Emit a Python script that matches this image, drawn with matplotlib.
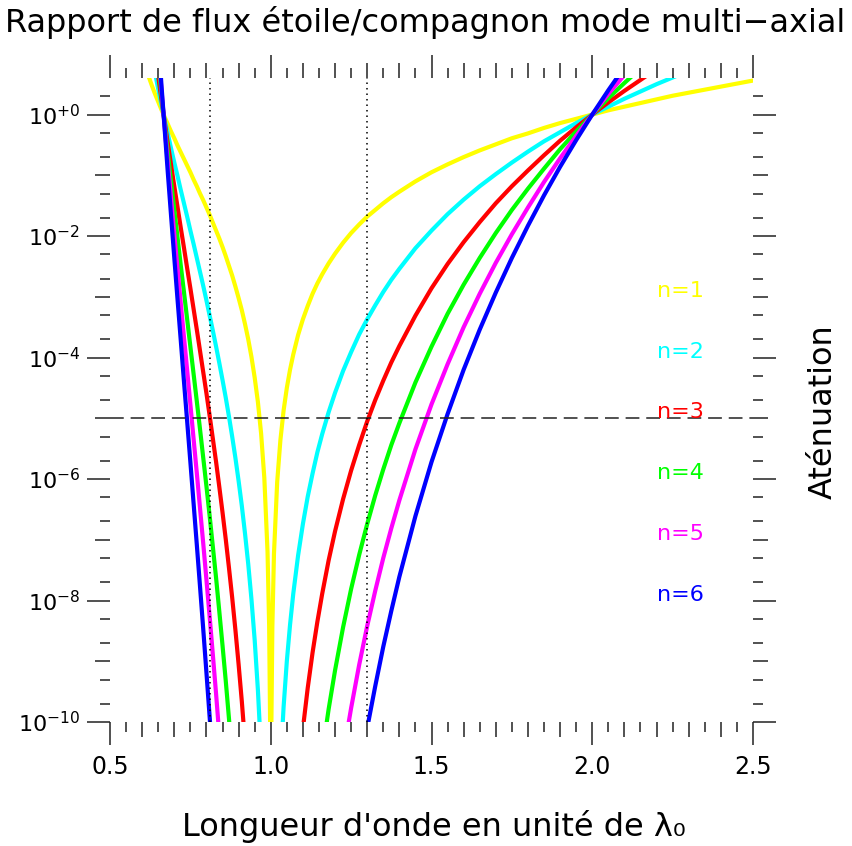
import matplotlib
matplotlib.use("Agg")
import matplotlib.pyplot as plt
import numpy as np
from matplotlib.ticker import FixedLocator, FuncFormatter

# wavelength in units of lambda0
lam = [0.60, 0.61, 0.62, 0.63, 0.64, 0.65, 0.66, 0.67, 0.68, 0.69,
       0.70, 0.71, 0.72, 0.73, 0.74, 0.75, 0.76, 0.77, 0.78, 0.79,
       0.80, 0.81, 0.82, 0.83, 0.84, 0.85, 0.86, 0.87, 0.88, 0.89,
       0.90, 0.91, 0.92, 0.93, 0.94, 0.95, 0.96, 0.97, 0.98, 0.99,
       0.995, 0.998, 0.999,
       1.001, 1.002, 1.005, 1.01, 1.02, 1.03, 1.04, 1.05, 1.06, 1.07,
       1.085, 1.10, 1.115, 1.13, 1.145, 1.16, 1.18, 1.20, 1.225, 1.25,
       1.275, 1.30, 1.325, 1.35, 1.375, 1.40, 1.45, 1.50, 1.55, 1.60,
       1.65, 1.70, 1.75, 1.80, 1.85, 1.90, 1.95, 2.00, 2.05, 2.10,
       2.15, 2.20, 2.25, 2.30, 2.40, 2.50]

# log10 of the attenuation, one list per order n
log_att_n1 = [0.95, 0.79, 0.63, 0.48, 0.34, 0.21, 0.08, -0.04, -0.16, -0.28,
              -0.39, -0.51, -0.62, -0.73, -0.84, -0.95, -1.07, -1.18, -1.30, -1.41,
              -1.53, -1.65, -1.78, -1.91, -2.04, -2.18, -2.33, -2.49, -2.65, -2.83,
              -3.02, -3.22, -3.45, -3.70, -3.99, -4.33, -4.73, -5.25, -5.98, -7.20,
              -8.41, -10.01, -11.21,
              -11.22, -10.02, -8.43, -7.23, -6.05, -5.36, -4.87, -4.50, -4.20, -3.95,
              -3.63, -3.37, -3.15, -2.95, -2.78, -2.63, -2.45, -2.29, -2.11, -1.95,
              -1.81, -1.68, -1.57, -1.46, -1.36, -1.27, -1.10, -0.95, -0.82, -0.70,
              -0.59, -0.49, -0.39, -0.31, -0.22, -0.14, -0.07, 0.00, 0.07, 0.13,
              0.19, 0.25, 0.31, 0.36, 0.46, 0.56]
log_att_n2 = [1.91, 1.57, 1.26, 0.97, 0.69, 0.42, 0.16, -0.08, -0.32, -0.56,
              -0.79, -1.01, -1.24, -1.46, -1.68, -1.91, -2.13, -2.36, -2.59, -2.82,
              -3.06, -3.31, -3.56, -3.82, -4.09, -4.37, -4.66, -4.97, -5.30, -5.65,
              -6.03, -6.44, -6.90, -7.40, -7.98, -8.65, -9.47, -10.51, -11.95, -14.40,
              -16.82, -20.02, -22.42,
              -22.44, -20.03, -16.86, -14.47, -12.09, -10.71, -9.75, -9.00, -8.40, -7.89,
              -7.26, -6.74, -6.29, -5.91, -5.56, -5.26, -4.90, -4.58, -4.22, -3.91,
              -3.62, -3.37, -3.14, -2.92, -2.72, -2.54, -2.20, -1.91, -1.64, -1.40,
              -1.18, -0.98, -0.79, -0.61, -0.44, -0.29, -0.14, 0.00, 0.13, 0.26,
              0.38, 0.50, 0.61, 0.72, 0.92, 1.11]
log_att_n3 = [2.86, 2.36, 1.89, 1.45, 1.03, 0.63, 0.25, -0.12, -0.48, -0.83,
              -1.18, -1.52, -1.86, -2.19, -2.53, -2.86, -3.20, -3.54, -3.89, -4.24,
              -4.59, -4.96, -5.34, -5.72, -6.13, -6.55, -6.99, -7.46, -7.95, -8.48,
              -9.05, -9.66, -10.34, -11.10, -11.97, -12.98, -14.20, -15.76, -17.93, -21.59,
              -25.23, -30.02, -33.63,
              -33.66, -30.05, -25.28, -21.70, -18.14, -16.07, -14.62, -13.50, -12.60, -11.84,
              -10.89, -10.11, -9.44, -8.86, -8.35, -7.89, -7.34, -6.86, -6.33, -5.86,
              -5.44, -5.05, -4.70, -4.38, -4.08, -3.81, -3.31, -2.86, -2.46, -2.10,
              -1.77, -1.46, -1.18, -0.92, -0.67, -0.43, -0.21, 0.00, 0.20, 0.39,
              0.57, 0.75, 0.92, 1.08, 1.38, 1.67]
log_att_n4 = [3.82, 3.14, 2.52, 1.93, 1.37, 0.84, 0.33, -0.16, -0.64, -1.11,
              -1.57, -2.02, -2.48, -2.92, -3.37, -3.82, -4.27, -4.72, -5.18, -5.65,
              -6.12, -6.61, -7.12, -7.63, -8.18, -8.74, -9.32, -9.94, -10.60, -11.30,
              -12.06, -12.88, -13.79, -14.80, -15.96, -17.31, -18.94, -21.01, -23.90, -28.79,
              -33.64, -40.03, -44.84,
              -44.88, -40.06, -33.71, -28.93, -24.18, -21.43, -19.49, -18.00, -16.80, -15.78,
              -14.52, -13.48, -12.59, -11.81, -11.13, -10.52, -9.79, -9.15, -8.44, -7.81,
              -7.25, -6.74, -6.27, -5.84, -5.44, -5.08, -4.41, -3.82, -3.28, -2.80,
              -2.36, -1.95, -1.57, -1.22, -0.89, -0.57, -0.28, 0.00, 0.27, 0.52,
              0.76, 1.00, 1.22, 1.44, 1.84, 2.22]
log_att_n5 = [4.77, 3.93, 3.15, 2.42, 1.72, 1.06, 0.41, -0.20, -0.81, -1.39,
              -1.97, -2.53, -3.10, -3.66, -4.21, -4.77, -5.34, -5.90, -6.48, -7.06,
              -7.66, -8.27, -8.90, -9.54, -10.22, -10.92, -11.66, -12.43, -13.25, -14.13,
              -15.08, -16.11, -17.24, -18.51, -19.95, -21.64, -23.67, -26.27, -29.88, -35.99,
              -42.06, -50.04, -56.05,
              -56.10, -50.08, -42.14, -36.17, -30.23, -26.79, -24.37, -22.51, -21.00, -19.73,
              -18.16, -16.85, -15.74, -14.77, -13.91, -13.15, -12.24, -11.44, -10.55, -9.77,
              -9.06, -8.42, -7.84, -7.30, -6.81, -6.35, -5.51, -4.77, -4.11, -3.50,
              -2.95, -2.44, -1.97, -1.53, -1.11, -0.72, -0.35, 0.00, 0.34, 0.65,
              0.96, 1.25, 1.53, 1.80, 2.30, 2.78]
log_att_n6 = [5.72, 4.72, 3.77, 2.90, 2.06, 1.27, 0.49, -0.24, -0.97, -1.67,
              -2.36, -3.04, -3.71, -4.39, -5.05, -5.72, -6.40, -7.08, -7.77, -8.47,
              -9.19, -9.92, -10.67, -11.45, -12.26, -13.10, -13.99, -14.92, -15.89, -16.95,
              -18.09, -19.33, -20.69, -22.21, -23.93, -25.96, -28.40, -31.52, -35.86, -43.19,
              -50.47, -60.05, -67.26,
              -67.32, -60.09, -50.57, -43.40, -36.27, -32.14, -29.24, -27.01, -25.20, -23.68,
              -21.79, -20.21, -18.88, -17.72, -16.69, -15.77, -14.69, -13.73, -12.66, -11.72,
              -10.87, -10.10, -9.41, -8.76, -8.17, -7.61, -6.61, -5.72, -4.93, -4.20,
              -3.54, -2.93, -2.36, -1.83, -1.33, -0.86, -0.42, 0.00, 0.40, 0.78,
              1.15, 1.49, 1.83, 2.15, 2.76, 3.33]

curves = [log_att_n1, log_att_n2, log_att_n3, log_att_n4, log_att_n5, log_att_n6]
labels = ["n=1", "n=2", "n=3", "n=4", "n=5", "n=6"]
colors = ["#ffff00", "#00ffff", "#ff0000", "#00ff00", "#ff00ff", "#0000ff"]

band_edges = [0.81, 1.30]    # dotted verticals
threshold = 1e-5             # dashed horizontal

tick_col = "#222222"

fig = plt.figure(figsize=(8.53, 8.46), dpi=100)
ax = fig.add_axes([110 / 853, 1 - 722 / 846, 643 / 853, 644 / 846])

for log_att, color in zip(curves, colors):
    ax.plot(lam, 10.0 ** np.asarray(log_att), color=color, lw=3.0)

ax.axhline(threshold, color=tick_col, lw=1.1, ls=(0, (9, 4.5)))
for x in band_edges:
    ax.axvline(x, color="black", lw=1.1, ls=(0, (1, 2.6)))

for i, (lab, color) in enumerate(zip(labels, colors)):
    ax.text(2.2, 10.0 ** (-3 - i), lab, color=color, fontsize=16, va="baseline")

ax.set_yscale("log")
ax.set_xlim(0.5, 2.5)
ax.set_ylim(1e-10, 4)

for s in ax.spines.values():
    s.set_visible(False)

xmaj = np.round(np.arange(0.5, 2.501, 0.1), 2)
xmin = np.round(np.arange(0.55, 2.5, 0.1), 2)
ymaj = 10.0 ** np.arange(-10, 1)
ymin = [m * 10.0 ** k for k in range(-10, 1) for m in (2, 5)]
ax.xaxis.set_major_locator(FixedLocator(xmaj))
ax.xaxis.set_minor_locator(FixedLocator(xmin))
ax.yaxis.set_major_locator(FixedLocator(ymaj))
ax.yaxis.set_minor_locator(FixedLocator(ymin))


def xfmt(v, pos):
    return "%.1f" % v if abs(v * 2 - round(v * 2)) < 1e-6 else ""


def yfmt(v, pos):
    e = int(round(np.log10(v)))
    return r"10$^{%+d}$" % e if e % 2 == 0 else ""


ax.xaxis.set_major_formatter(FuncFormatter(xfmt))
ax.yaxis.set_major_formatter(FuncFormatter(yfmt))

ax.tick_params(which="major", direction="out", length=16.5, width=1.1, color=tick_col,
               top=True, right=True, labelsize=16, pad=5)
ax.tick_params(which="minor", direction="out", length=7.2, width=1.1, color=tick_col,
               top=True, right=True)
ax.tick_params(axis="x", which="major", labelsize=17, pad=7)

# medium ticks: 0.1 steps on x, odd decades on y
for t, v in zip(ax.xaxis.get_major_ticks(), xmaj):
    if xfmt(v, None) == "":
        t.tick1line.set_markersize(10.8)
        t.tick2line.set_markersize(10.8)
for t, v in zip(ax.yaxis.get_major_ticks(), ymaj):
    if yfmt(v, None) == "":
        t.tick1line.set_markersize(10.8)
        t.tick2line.set_markersize(10.8)

fig.text(0.498, 1 - 32 / 846, "Rapport de flux étoile/compagnon mode multi\u2212axial",
         fontsize=23, ha="center", va="baseline")
fig.text(434 / 853, 1 - 836 / 846, "Longueur d'onde en unité de λ₀",
         fontsize=23, ha="center", va="baseline")
fig.text(823 / 853, 1 - 412 / 846, "Aténuation", fontsize=23, rotation=90,
         ha="center", va="center")

fig.savefig("out.png", dpi=100)
